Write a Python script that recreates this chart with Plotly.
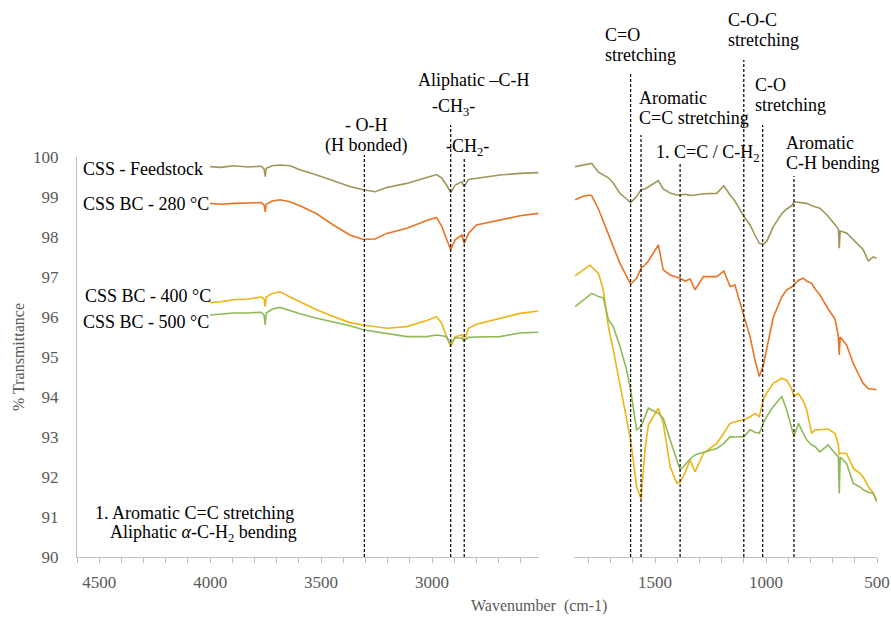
import plotly.graph_objects as go

# ---------------- data ----------------
wn_left = [4000, 3950, 3895, 3830, 3770, 3757, 3752, 3747, 3720, 3685, 3640, 3595, 3520, 3445,
           3370, 3310, 3257, 3204, 3114, 3024, 2980, 2956, 2935, 2916, 2896, 2866, 2855, 2836,
           2800, 2694, 2604, 2521]
feed_left = [99.76, 99.74, 99.78, 99.75, 99.77, 99.7, 99.51, 99.72, 99.78, 99.8, 99.78, 99.68,
             99.55, 99.4, 99.26, 99.18, 99.13, 99.24, 99.34, 99.49, 99.56, 99.47, 99.3, 99.11,
             99.3, 99.38, 99.26, 99.44, 99.47, 99.55, 99.59, 99.61]
bc280_left = [98.84, 98.82, 98.84, 98.85, 98.86, 98.8, 98.63, 98.82, 98.9, 98.93, 98.88, 98.78,
              98.58, 98.3, 98.05, 97.94, 97.95, 98.09, 98.22, 98.41, 98.49, 98.26, 97.97, 97.68,
              97.93, 98.05, 97.84, 98.09, 98.3, 98.43, 98.53, 98.59]
bc400_left = [96.36, 96.38, 96.43, 96.45, 96.5, 96.45, 96.26, 96.5, 96.59, 96.63, 96.5, 96.38,
              96.18, 96.01, 95.86, 95.8, 95.76, 95.72, 95.76, 95.91, 96.01, 95.84, 95.51, 95.26,
              95.51, 95.55, 95.38, 95.72, 95.82, 95.97, 96.09, 96.15]
bc500_left = [96.05, 96.07, 96.1, 96.1, 96.12, 96.05, 95.8, 96.1, 96.2, 96.24, 96.15, 96.08,
              95.97, 95.88, 95.78, 95.68, 95.63, 95.59, 95.51, 95.51, 95.55, 95.53, 95.51, 95.33,
              95.48, 95.47, 95.41, 95.49, 95.5, 95.51, 95.6, 95.62]

wn_right = [1860, 1823, 1793, 1785, 1755, 1733, 1710, 1688, 1658, 1628, 1610, 1583, 1563, 1545,
            1530, 1485, 1463, 1432, 1402, 1387, 1365, 1342, 1320, 1282, 1222, 1190, 1162, 1140,
            1099, 1072, 1050, 1030, 1012, 997, 967, 929, 907, 884, 874, 854, 832, 817, 794, 779,
            757, 720, 689, 674, 670, 666, 637, 607, 577, 562, 539, 517, 502]
feed_right = [99.76, 99.8, 99.83, 99.84, 99.62, 99.55, 99.48, 99.35, 99.09, 98.95, 98.86, 99.01,
              99.18, 99.2, 99.25, 99.41, 99.2, 99.1, 99.05, 99.05, 99.07, 99.04, 99.05, 99.08,
              99.09, 99.28, 99.05, 98.9, 98.51, 98.3, 98.05, 97.84, 97.82, 97.89, 98.26, 98.58,
              98.7, 98.78, 98.88, 98.87, 98.85, 98.84, 98.78, 98.75, 98.72, 98.52, 98.32, 98.2,
              97.72, 98.15, 98.1, 97.93, 97.78, 97.68, 97.4, 97.5, 97.47]
bc280_right = [98.93, 99.02, 99.05, 99.03, 98.7, 98.4, 98.1, 97.76, 97.34, 97.0, 96.82, 96.97,
               97.22, 97.3, 97.4, 97.8, 97.18, 97.05, 97.0, 96.97, 96.9, 96.95, 96.68, 97.01,
               97.01, 97.15, 96.76, 96.8, 96.01, 95.51, 94.93, 94.51, 94.8, 95.2, 96.0, 96.5,
               96.68, 96.75, 96.8, 96.92, 96.97, 96.9, 96.84, 96.7, 96.55, 96.2, 95.95, 95.51,
               95.05, 95.5, 95.3, 94.84, 94.5, 94.34, 94.21, 94.2, 94.18]
bc400_right = [97.03, 97.18, 97.3, 97.25, 97.09, 96.68, 95.76, 95.18, 94.34, 93.51, 92.93, 91.76,
               91.45, 92.68, 93.3, 93.72, 93.34, 92.26, 91.84, 91.88, 92.1, 92.43, 92.13, 92.59,
               92.84, 93.1, 93.34, 93.38, 93.43, 93.5, 93.59, 93.51, 93.93, 94.1, 94.34, 94.47,
               94.42, 94.2, 94.01, 94.09, 93.9, 93.68, 93.09, 93.18, 93.18, 93.2, 93.09, 92.8,
               92.55, 92.6, 92.59, 92.22, 92.09, 92.0, 91.76, 91.6, 91.43]
bc500_right = [96.26, 96.43, 96.55, 96.59, 96.51, 96.48, 95.93, 95.76, 95.26, 94.68, 94.18, 93.18,
               93.26, 93.51, 93.72, 93.59, 93.47, 92.93, 92.4, 92.18, 92.3, 92.45, 92.55, 92.62,
               92.71, 92.84, 93.01, 93.0, 93.01, 93.18, 93.12, 93.1, 93.35, 93.51, 93.76, 94.01,
               93.68, 93.18, 93.01, 93.34, 93.1, 92.93, 92.8, 92.76, 92.63, 92.8, 92.59, 92.51,
               91.59, 92.5, 92.34, 91.84, 91.75, 91.68, 91.62, 91.59, 91.38]

series_names = ["CSS - Feedstock", "CSS BC - 280 °C", "CSS BC - 400 °C", "CSS BC - 500 °C"]
series_left = [feed_left, bc280_left, bc400_left, bc500_left]
series_right = [feed_right, bc280_right, bc400_right, bc500_right]

# band marker wavenumbers (dotted guide lines)
marker_left = [3305, 2916, 2855]
marker_right = [1610, 1563, 1387, 1100, 1015, 874]

# ---------------- style / layout ----------------
colors = ["#A0965A", "#EA7324", "#EEB414", "#8FBA55"]
marker_left_top = [155, 125, 158]
marker_right_top = [73, 135, 162, 60, 125, 176]

W, H = 891, 625
PL, PR, PT, PB = 77, 877, 157, 557   # plot area in page pixels
L, T, R, B = PL, PT, W - PR, H - PB
PW, PH = PR - PL, PB - PT


def px(xp):
    return (xp - PL) / PW


def py(yp):
    return (PB - yp) / PH


SERIF = "Liberation Serif, Times New Roman, serif"
GREY = "#595959"
AXIS = "#BFBFBF"

fig = go.Figure()
for name, yl, yr, c in zip(series_names, series_left, series_right, colors):
    fig.add_trace(go.Scatter(x=wn_left, y=yl, mode="lines", line=dict(color=c, width=1.6),
                             name=name, showlegend=False, xaxis="x", yaxis="y"))
    fig.add_trace(go.Scatter(x=wn_right, y=yr, mode="lines", line=dict(color=c, width=1.6),
                             name=name, showlegend=False, xaxis="x2", yaxis="y2"))

shapes = []
for wn, top in zip(marker_left, marker_left_top):
    shapes.append(dict(type="line", xref="x", yref="paper", x0=wn, x1=wn, y0=0, y1=py(top),
                       line=dict(color="black", width=1.2, dash="3px,2px")))
for wn, top in zip(marker_right, marker_right_top):
    shapes.append(dict(type="line", xref="x2", yref="paper", x0=wn, x1=wn, y0=0, y1=py(top),
                       line=dict(color="black", width=1.2, dash="3px,2px")))

labels = [
    # text, x px, y px, anchor
    ("CSS - Feedstock", 81, 169, "left"),
    ("CSS BC - 280 °C", 81, 204, "left"),
    ("CSS BC - 400 °C", 83, 296, "left"),
    ("CSS BC - 500 °C", 81, 322, "left"),
    ("1. Aromatic C=C stretching", 93, 513, "left"),
    ("Aliphatic <i>α</i>-C-H<sub>2</sub> bending", 108, 533, "left"),
    ("- O-H", 366, 125, "center"),
    ("(H bonded)", 366, 145, "center"),
    ("Aliphatic –C-H", 473, 80, "center"),
    ("-CH<sub>3</sub>-", 453, 108, "center"),
    ("-CH<sub>2</sub>-", 467, 147, "center"),
    ("C=O", 603, 35, "left"),
    ("stretching", 603, 55, "left"),
    ("C-O-C", 726, 20, "left"),
    ("stretching", 726, 40, "left"),
    ("Aromatic", 637, 98, "left"),
    ("C=C stretching", 637, 118, "left"),
    ("C-O", 753, 85, "left"),
    ("stretching", 753, 105, "left"),
    ("1. C=C / C-H<sub>2</sub>", 654, 153, "left"),
    ("Aromatic", 784, 143, "left"),
    ("C-H bending", 784, 163, "left"),
]
annotations = []
for text, xp, yp, anc in labels:
    annotations.append(dict(text=text, xref="paper", yref="paper", x=px(xp), y=py(yp),
                            xanchor=anc, yanchor="middle", showarrow=False,
                            font=dict(family=SERIF, size=18, color="black")))
annotations.append(dict(text="% Transmittance", xref="paper", yref="paper", x=px(18), y=py(357),
                        xanchor="center", yanchor="middle", textangle=-90, showarrow=False,
                        font=dict(family=SERIF, size=16, color=GREY)))
annotations.append(dict(text="Wavenumber&nbsp; (cm-1)", xref="paper", yref="paper", x=px(539), y=py(606),
                        xanchor="center", yanchor="middle", showarrow=False,
                        font=dict(family=SERIF, size=16, color=GREY)))

xcommon = dict(showline=True, linecolor=AXIS, linewidth=1.3, showgrid=False, zeroline=False,
               ticks="outside", ticklen=5, tickcolor=AXIS, tickwidth=1, automargin=False,
               tick0=500, dtick=500, ticklabelstandoff=4,
               minor=dict(dtick=100, ticks="outside", ticklen=5, tickcolor=AXIS, tickwidth=1),
               tickfont=dict(family=SERIF, size=17, color=GREY))

fig.update_layout(
    width=W, height=H,
    margin=dict(l=L, r=R, t=T, b=B, autoexpand=False),
    paper_bgcolor="white", plot_bgcolor="white",
    xaxis=dict(domain=[0, px(539)], range=[4600, 2518], anchor="y", **xcommon),
    xaxis2=dict(domain=[px(574), 1], range=[1865, 500], anchor="y2", **xcommon),
    yaxis=dict(domain=[0, 1], range=[90, 100], dtick=1, tick0=90, showline=True, linecolor=AXIS,
               linewidth=1.3, showgrid=False, zeroline=False, ticks="", ticklabelstandoff=14,
               automargin=False,
               tickfont=dict(family=SERIF, size=17, color=GREY), anchor="x"),
    yaxis2=dict(domain=[0, 1], matches="y", visible=False, anchor="x2"),
    shapes=shapes,
    annotations=annotations,
    showlegend=False,
)

fig.write_html("out.html", config={"displayModeBar": False},
               post_script="document.body.style.margin='0';document.body.style.overflow='hidden';")
